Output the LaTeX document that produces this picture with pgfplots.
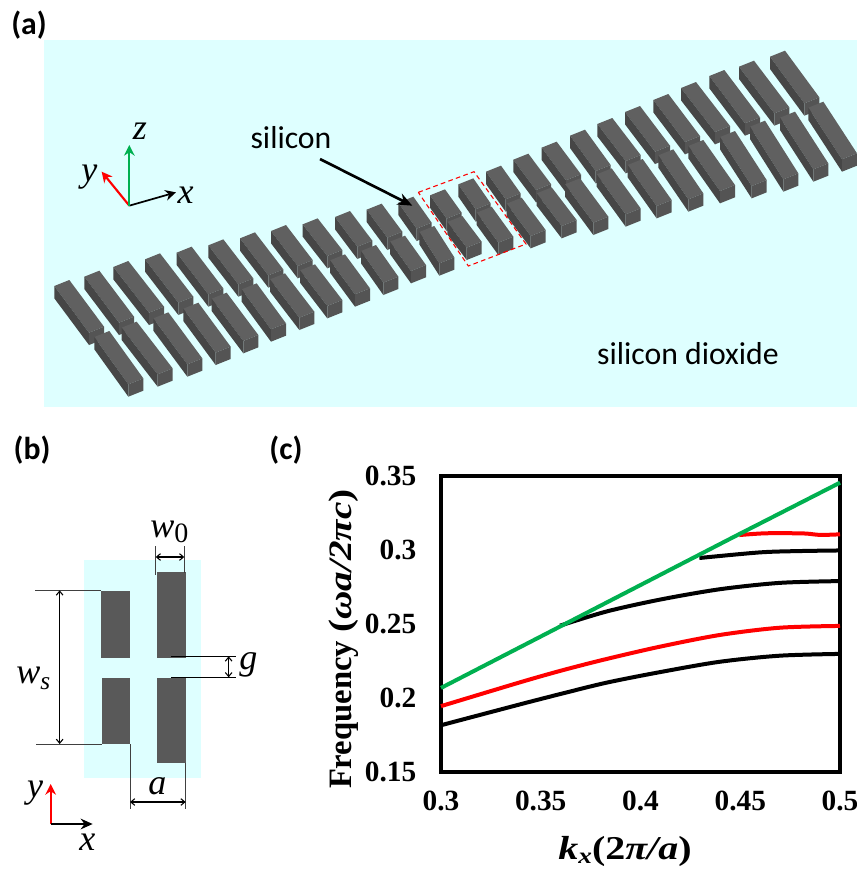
\documentclass[border=0pt]{standalone}
\usepackage{fontspec}
\setmainfont{Carlito}
\newfontfamily\tnr{Liberation Serif}
\newfontfamily\tnrw[FakeStretch=1.2]{Liberation Serif}
\usepackage{pgfplots}
\pgfplotsset{compat=1.18}
\usetikzlibrary{arrows.meta}
\definecolor{sio}{RGB}{222,255,255}
\definecolor{topc}{RGB}{96,96,96}
\definecolor{sidec}{RGB}{70,70,70}
\definecolor{frontc}{RGB}{84,84,84}
\definecolor{dgray}{RGB}{89,89,89}
\definecolor{gr}{RGB}{0,176,80}
\newcommand{\Block}[4]{%
  \fill[topc] (#1,#2) -- (#3,#4) -- (#3-45,#4+18) -- (#1-45,#2+18) -- cycle;
  \fill[sidec] (#1-45,#2+18) -- (#3-45,#4+18) -- (#3-45,#4+55) -- (#1-45,#2+55) -- cycle;
  \fill[frontc] (#3-45,#4+18) -- (#3,#4) -- (#3,#4+37) -- (#3-45,#4+55) -- cycle;
}
\newcommand{\lab}{\fontsize{23.8}{26}\selectfont}
\newcommand{\mi}{\fontsize{27}{30}\selectfont\tnr\itshape}
\begin{document}
\begin{tikzpicture}
\path[use as bounding box] (0,0) rectangle (642.75pt,-651.75pt);
% panel a
\begin{scope}[x=0.75pt,y=-0.75pt]
\fill[sio] (44,40) rectangle (857,406.5);
\node[font=\lab\bfseries] at (29,25) {(a)};
\node[font=\lab\bfseries] at (32,450) {(b)};
\node[font=\lab\bfseries] at (286,450) {(c)};
\end{scope}
\begin{scope}[x=0.25pt,y=-0.25pt,shift={(0pt,-22.5pt)}]
\foreach \a/\b/\c/\d in {208/750/312/890,298/722/402/860,385/693/492/830,480/670/580/800,575/650/670/775,670/628/760/745,765/607/850/718,858/585/938/690,953/565/1027/660,1050/543/1117/632,1145/521/1207/605,1240/500/1295/578}{\Block{\a}{\b}{\c}{\d}}
\foreach \a/\b/\c/\d in {328/903/430/1045,410/875/518/1015,505/847/607/985,595/818/692/950,680/788/775/915,770/760/858/880,855/730/943/845,945/703/1027/810,1035/673/1110/775,1128/645/1195/740,1215/617/1278/705}{\Block{\a}{\b}{\c}{\d}}
\draw[line width=2pt,-{Stealth[length=11pt,width=9pt]}] (960,387) -- (1237,527);
\node[font=\lab] at (873,322) {silicon};
\draw[red,line width=1.6pt,-{Stealth[length=8pt,width=8pt]}] (388,527) -- (305,425);
\draw[black,line width=1.3pt,-{Stealth[length=8pt,width=8pt]}] (388,527) -- (528,487);
\draw[gr,line width=1.6pt,-{Stealth[length=8pt,width=8pt]}] (388,527) -- (388,345);
\node[font=\mi] at (420,305) {z};
\node[font=\mi] at (268,440) {y};
\node[font=\mi] at (557,497) {x};
\end{scope}
\begin{scope}[x=0.25pt,y=-0.25pt,shift={(300pt,-22.5pt)}]
\foreach \a/\b/\c/\d in {135/478/185/548,220/445/272/520,303/407/362/490,385/371/453/462,470/335/543/433,555/299/632/405,637/264/722/375,720/228/810/347,805/192/900/318,888/156/990/288,973/120/1080/262,1062/92/1168/232,1155/62/1258/202}{\Block{\a}{\b}{\c}{\d}}
\foreach \a/\b/\c/\d in {103/588/163/682,187/558/245/635,275/530/340/620,365/503/437/600,455/472/530/570,540/445/625/560,635/415/722/535,728/387/815/510,820/358/910/490,910/330/1005/465,1005/303/1100/450,1095/272/1195/430,1185/245/1285/400,1270/215/1371/370}{\Block{\a}{\b}{\c}{\d}}
\draw[red,line width=0.8pt,dash pattern=on 3.5pt off 2.5pt] (55,487) -- (222,425) -- (378,642) -- (205,708) -- cycle;
\node[font=\lab] at (864,972) {silicon dioxide};
\end{scope}
% panel b
\begin{scope}[x=0.25pt,y=-0.25pt,shift={(0pt,-322.5pt)}]
\fill[sio] (252,390) rectangle (602,1045);
\fill[dgray] (303,483) rectangle (390,683);
\fill[dgray] (305,743) rectangle (390,942);
\fill[dgray] (470,427) rectangle (557,683);
\fill[dgray] (470,743) rectangle (557,998);
\draw[black!75,line width=0.7pt] (105,481) -- (303,481) (108,942) -- (305,942);
\draw[black!75,line width=0.7pt] (467,348) -- (467,435) (553,348) -- (553,430);
\draw[black,line width=0.8pt] (513,679) -- (708,679) (513,742) -- (708,742);
\draw[black!75,line width=0.7pt] (390,942) -- (390,1138) (557,998) -- (557,1138);
\tikzset{dim/.style={line width=0.8pt,{Straight Barb[length=3pt,width=5pt]}-{Straight Barb[length=3pt,width=5pt]}}}
\draw[dim] (179,481) -- (179,942);
\draw[dim] (467,381) -- (553,381);
\draw[dim] (686,679) -- (686,742);
\draw[dim] (390,1116) -- (557,1116);
\draw[red,line width=1.5pt,-{Stealth[length=8pt,width=8pt]}] (152,1182) -- (152,1062);
\draw[black,line width=1.5pt,-{Stealth[length=9pt,width=8pt]}] (152,1182) -- (278,1182);
\node[font=\mi,inner sep=0pt] at (508,305) {w\raisebox{-4pt}{\fontsize{21}{24}\selectfont\upshape 0}};
\node[font=\mi,inner sep=0pt] at (100,745) {w\raisebox{-4pt}{\fontsize{19}{24}\selectfont s}};
\node[font=\mi,inner sep=0pt] at (745,705) {g};
\node[font=\mi,inner sep=0pt] at (472,1068) {a};
\node[font=\mi,inner sep=0pt] at (105,1090) {y};
\node[font=\mi,inner sep=0pt] at (262,1238) {x};
\end{scope}
% panel c
\begin{axis}[
  at={(330.75pt,-579pt)},anchor=south west,
  scale only axis,width=299.25pt,height=222pt,
  xmin=0.3,xmax=0.5,ymin=0.15,ymax=0.35,
  axis line style={line width=2.5pt},
  tick style={draw=none},
  xtick={0.3,0.35,0.4,0.45,0.5},
  xticklabels={0.3,0.35,0.4,0.45,0.5},
  ytick={0.15,0.2,0.25,0.3,0.35},
  yticklabels={0.15,0.2,0.25,0.3,0.35},
  ticklabel style={font=\fontsize{22}{24}\selectfont\tnr\bfseries},
  xticklabel style={yshift=-11pt},
  yticklabel style={xshift=-15pt},
  xlabel={\fontsize{25}{26}\selectfont\tnrw\bfseries\itshape k\raisebox{-2.5pt}{\fontsize{17}{20}\selectfont x}{\upshape (2}π/a{\upshape )}},
  xlabel style={at={(axis description cs:0.4612,-0.27)},anchor=center,inner sep=0pt},
  ylabel={\fontsize{24.5}{28}\selectfont\tnr\bfseries Frequency {\tnrw\bfseries\itshape {\upshape (}ωa/2πc{\upshape )}}},
  ylabel style={at={(axis description cs:-0.243,0.449)},anchor=center,rotate=0},
  clip=false,
]
\addplot[black,line width=3pt,smooth] coordinates {(0.3,0.1816)(0.3396,0.1957)(0.3613,0.2032)(0.3831,0.2104)(0.4098,0.2175)(0.4398,0.2245)(0.4699,0.2286)(0.5,0.2298)};
\addplot[black,line width=3pt,smooth] coordinates {(0.3597,0.2489)(0.3831,0.2585)(0.4098,0.2665)(0.4398,0.2735)(0.4699,0.2778)(0.5,0.2790)};
\addplot[black,line width=3pt,smooth] coordinates {(0.4295,0.2946)(0.4599,0.2984)(0.48,0.2993)(0.5,0.2997)};
\addplot[red,line width=3pt,smooth] coordinates {(0.3,0.1945)(0.3396,0.2106)(0.3613,0.2189)(0.3831,0.2264)(0.4098,0.2347)(0.4398,0.2426)(0.4699,0.2475)(0.5,0.2487)};
\addplot[red,line width=3pt,smooth] coordinates {(0.4495,0.3101)(0.4628,0.3113)(0.4816,0.3112)(0.49,0.3102)(0.5,0.3106)};
\addplot[gr,line width=3pt] coordinates {(0.3,0.2068)(0.3597,0.2483)(0.43,0.2972)(0.45,0.3111)(0.5,0.3455)};
\end{axis}
\end{tikzpicture}
\end{document}
